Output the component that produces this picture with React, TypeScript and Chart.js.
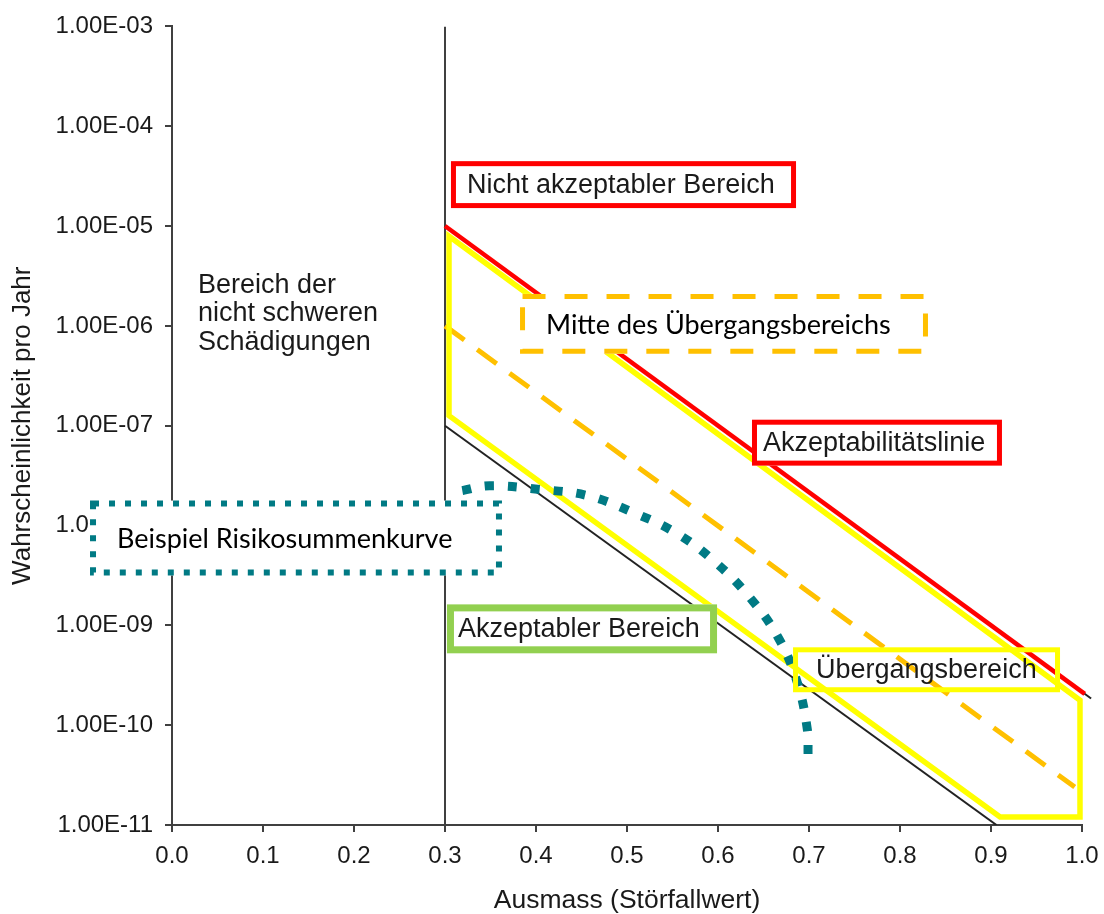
import React, { useEffect, useRef } from "react";
import { Chart, registerables } from "chart.js";

Chart.register(...registerables);

// ---- tick values and labels ----
const xTickValues = [0, 0.1, 0.2, 0.3, 0.4, 0.5, 0.6, 0.7, 0.8, 0.9, 1.0];
const xTickLabels = ["0.0", "0.1", "0.2", "0.3", "0.4", "0.5", "0.6", "0.7", "0.8", "0.9", "1.0"];
const yTickValues = [1e-3, 1e-4, 1e-5, 1e-6, 1e-7, 1e-8, 1e-9, 1e-10, 1e-11];
const yTickLabels = ["1.00E-03", "1.00E-04", "1.00E-05", "1.00E-06", "1.00E-07", "1.00E-08", "1.00E-09", "1.00E-10", "1.00E-11"];

// ---- series ----
// Akzeptabilitätslinie (red) and the black line underneath
const acceptX = [0.3, 1.003];
const acceptY = [1e-5, 2.06e-10];
const acceptBaseX = [0.3, 1.01];
const acceptBaseY = [1e-5, 1.85e-10];
// lower boundary line (black)
const lowerX = [0.3, 0.906];
const lowerY = [1e-7, 1e-11];
// Mitte des Übergangsbereichs (orange dashed)
const midX = [0.3, 0.992];
const midY = [1e-6, 2.4e-11];
// Übergangsbereich outline (yellow)
const transX = [0.3044, 0.3044, 0.9978, 0.9978, 0.91, 0.3044, 0.3044];
const transY = [1e-6, 7.9e-6, 1.78e-10, 1.2e-11, 1.2e-11, 1.26e-7, 1e-6];
// vertical divider at 0.3
const dividerX = [0.3, 0.3];
const dividerY = [1e-11, 1e-3];
// Beispiel Risikosummenkurve (teal dotted)
const curveX = [0.319, 0.349, 0.404, 0.456, 0.507, 0.555, 0.597, 0.635, 0.666, 0.687, 0.698, 0.699];
const curveY = [2.24e-8, 2.5e-8, 2.3e-8, 2.0e-8, 1.35e-8, 8.3e-9, 4.3e-9, 1.9e-9, 7.6e-10, 2.7e-10, 9.3e-11, 5.0e-11];

const ARIAL = '"Liberation Sans", Arial, sans-serif';
const CALIBRI = 'Lato, "Open Sans", sans-serif';

// ---- annotation boxes (x in axis units, e = log10 of y) ----
const boxes = [
  { text: "Nicht akzeptabler Bereich", x0: 0.3093, x1: 0.683, e0: -4.375, e1: -4.795, tx: 0.3242, color: "#FF0000", width: 5, dash: [] as number[], fill: true, font: `27px ${ARIAL}`, textColor: "#1a1a1a" },
  { text: "Mitte des Übergangsbereichs", x0: 0.3852, x1: 0.828, e0: -5.705, e1: -6.255, tx: 0.411, color: "#FFC000", width: 5, dash: [23, 19], fill: true, font: `27px ${CALIBRI}`, textColor: "#000000" },
  { text: "Akzeptabilitätslinie", x0: 0.6401, x1: 0.9093, e0: -6.965, e1: -7.375, tx: 0.6495, color: "#FF0000", width: 5, dash: [], fill: true, font: `27px ${ARIAL}`, textColor: "#1a1a1a" },
  { text: "Beispiel Risikosummenkurve", x0: -0.0868, x1: 0.3593, e0: -7.78, e1: -8.47, tx: -0.0604, color: "#007A84", width: 6, dash: [6, 10], fill: true, font: `27px ${CALIBRI}`, textColor: "#000000" },
  { text: "Akzeptabler Bereich", x0: 0.306, x1: 0.5951, e0: -8.825, e1: -9.245, tx: 0.3143, color: "#92D050", width: 7, dash: [], fill: true, font: `27px ${ARIAL}`, textColor: "#1a1a1a" },
  { text: "Übergangsbereich", x0: 0.6852, x1: 0.9731, e0: -9.245, e1: -9.645, tx: 0.7077, color: "#FFFF00", width: 5, dash: [], fill: false, font: `27px ${ARIAL}`, textColor: "#1a1a1a" },
];

const regionText = ["Bereich der", "nicht schweren", "Schädigungen"];
const regionTextPos = { x: 0.0286, e: -5.67, lineGap: 28.5 };

const pts = (xs: number[], ys: number[]) => xs.map((x, i) => ({ x, y: ys[i] }));

const labelForY = (v: number) => {
  const i = yTickValues.findIndex((t) => Math.abs(Math.log10(t) - Math.log10(v)) < 1e-6);
  return i >= 0 ? yTickLabels[i] : "";
};
const labelForX = (v: number) => {
  const i = xTickValues.findIndex((t) => Math.abs(t - v) < 1e-6);
  return i >= 0 ? xTickLabels[i] : "";
};

const annotationPlugin = {
  id: "annotationBoxes",
  afterDatasetsDraw(chart: any) {
    const { ctx } = chart;
    const xs = chart.scales.x;
    const ys = chart.scales.y;
    ctx.save();
    for (const b of boxes) {
      const left = xs.getPixelForValue(b.x0);
      const right = xs.getPixelForValue(b.x1);
      const top = ys.getPixelForValue(Math.pow(10, b.e0));
      const bottom = ys.getPixelForValue(Math.pow(10, b.e1));
      if (b.fill) {
        ctx.fillStyle = "#ffffff";
        ctx.fillRect(left - b.width / 2, top - b.width / 2, right - left + b.width, bottom - top + b.width);
      }
      ctx.setLineDash(b.dash);
      ctx.lineWidth = b.width;
      ctx.strokeStyle = b.color;
      ctx.lineCap = "butt";
      ctx.lineJoin = "miter";
      ctx.strokeRect(left, top, right - left, bottom - top);
      ctx.setLineDash([]);
      ctx.font = b.font;
      ctx.fillStyle = b.textColor;
      ctx.textAlign = "left";
      ctx.textBaseline = "middle";
      ctx.fillText(b.text, xs.getPixelForValue(b.tx), (top + bottom) / 2 + 1);
    }
    ctx.font = `27px ${ARIAL}`;
    ctx.fillStyle = "#1a1a1a";
    ctx.textAlign = "left";
    ctx.textBaseline = "alphabetic";
    const tx = xs.getPixelForValue(regionTextPos.x);
    const ty = ys.getPixelForValue(Math.pow(10, regionTextPos.e));
    regionText.forEach((line, i) => ctx.fillText(line, tx, ty + i * regionTextPos.lineGap));
    ctx.restore();
  },
};

export default function App() {
  const ref = useRef<HTMLCanvasElement>(null);
  useEffect(() => {
    const canvas = ref.current;
    if (!canvas) return;
    const chart = new Chart(canvas, {
      type: "line",
      data: {
        datasets: [
          { label: "Beispiel Risikosummenkurve", data: pts(curveX, curveY), borderColor: "#007A84", borderWidth: 9, borderDash: [9, 14], borderCapStyle: "butt", tension: 0.4, pointRadius: 0, fill: false },
          { label: "Übergangsbereich", data: pts(transX, transY), borderColor: "#FFFF00", borderWidth: 5.5, borderJoinStyle: "miter", tension: 0, pointRadius: 0, fill: false, clip: false },
          { label: "Akzeptabilitätslinie", data: pts(acceptX, acceptY), borderColor: "#FF0000", borderWidth: 4.5, pointRadius: 0, fill: false, clip: false },
          { label: "Basis", data: pts(acceptBaseX, acceptBaseY), borderColor: "#222222", borderWidth: 2, pointRadius: 0, fill: false, clip: false },
          { label: "Mitte des Übergangsbereichs", data: pts(midX, midY), borderColor: "#FFC000", borderWidth: 5, borderDash: [24, 16], borderCapStyle: "butt", pointRadius: 0, fill: false },
          { label: "Untere Linie", data: pts(lowerX, lowerY), borderColor: "#222222", borderWidth: 2, pointRadius: 0, fill: false },
          { label: "Trennlinie", data: pts(dividerX, dividerY), borderColor: "#404040", borderWidth: 2, pointRadius: 0, fill: false },
        ] as any,
      },
      options: {
        responsive: false,
        animation: false,
        devicePixelRatio: 1,
        layout: { padding: { left: 0, right: 22, top: 25, bottom: 0 } },
        plugins: { legend: { display: false }, tooltip: { enabled: false } },
        elements: { point: { radius: 0 } },
        scales: {
          x: {
            type: "linear",
            min: 0,
            max: 1,
            afterBuildTicks: (s: any) => {
              s.ticks = xTickValues.map((v) => ({ value: v }));
            },
            afterFit: (s: any) => {
              s.height = 89;
              s.paddingLeft = 0;
              s.paddingRight = 0;
            },
            ticks: { callback: (v: any) => labelForX(Number(v)), font: { family: ARIAL, size: 24 }, color: "#1a1a1a", padding: 10, autoSkip: false, maxRotation: 0 },
            grid: { drawOnChartArea: false, drawTicks: true, tickLength: 7, color: "#404040", lineWidth: 2 },
            border: { display: true, color: "#404040", width: 2 },
            title: { display: true, text: "Ausmass (Störfallwert)", font: { family: ARIAL, size: 26.5, lineHeight: 1 }, color: "#1a1a1a", padding: { top: 0, bottom: 0 } },
          },
          y: {
            type: "logarithmic",
            min: 1e-11,
            max: 1e-3,
            afterBuildTicks: (s: any) => {
              s.ticks = yTickValues.map((v) => ({ value: v }));
            },
            afterFit: (s: any) => {
              s.width = 172;
            },
            ticks: { callback: (v: any) => labelForY(Number(v)), font: { family: ARIAL, size: 24 }, color: "#1a1a1a", padding: 12, autoSkip: false },
            grid: { drawOnChartArea: false, drawTicks: true, tickLength: 7, color: "#404040", lineWidth: 2 },
            border: { display: true, color: "#404040", width: 2 },
            title: { display: true, text: "Wahrscheinlichkeit pro Jahr", font: { family: ARIAL, size: 26, lineHeight: 1 }, color: "#1a1a1a", padding: { top: 10, bottom: 0 } },
          },
        },
      } as any,
      plugins: [annotationPlugin],
    });
    return () => chart.destroy();
  }, []);
  return (
    <canvas
      ref={ref}
      width={1104}
      height={914}
      style={{ position: "absolute", left: 0, top: 0, width: 1104, height: 914, display: "block" }}
    />
  );
}
